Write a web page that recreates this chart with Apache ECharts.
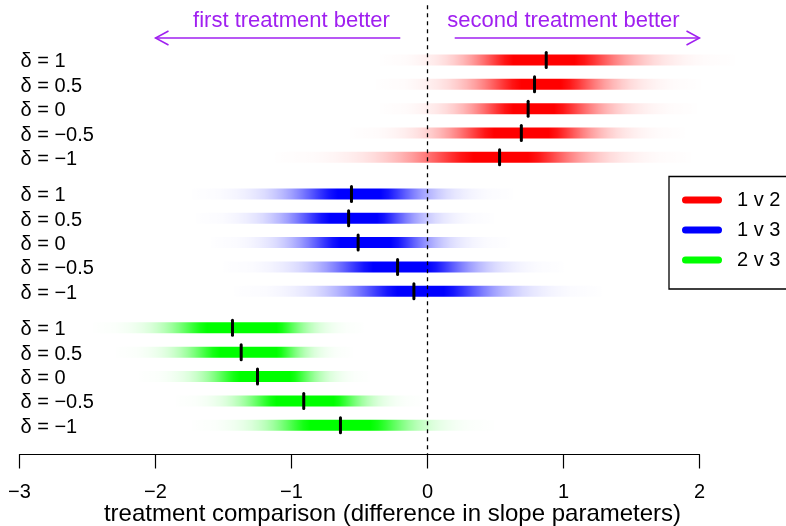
<!DOCTYPE html>
<html>
<head>
<meta charset="utf-8">
<script src="https://cdn.jsdelivr.net/npm/echarts@6/dist/echarts.min.js"></script>
<style>
  html, body { margin: 0; padding: 0; background: #ffffff; }
  #chart { width: 786px; height: 526px; }
</style>
</head>
<body>
<div id="chart"></div>
<script>
// Sensitivity parameter values, one row per value within each comparison block
const deltaLabels = ['δ = 1', 'δ = 0.5', 'δ = 0', 'δ = −0.5', 'δ = −1'];
const comparisons = ['1 v 2', '1 v 3', '2 v 3'];
const comparisonColors = [[255, 0, 0], [0, 0, 255], [0, 255, 0]];
const xTicks = [-3, -2, -1, 0, 1, 2];

// Posterior summaries of the slope difference (per delta row):
// median, outer support (lo/hi) and the high-density core (coreLo/coreHi)
const median12 = [0.873, 0.787, 0.740, 0.690, 0.530];
const lo12     = [-0.35, -0.38, -0.35, -0.57, -1.12];
const coreLo12 = [0.63, 0.69, 0.63, 0.49, 0.34];
const coreHi12 = [1.08, 0.98, 0.93, 0.89, 0.74];
const hi12     = [2.26, 2.01, 1.98, 1.89, 1.94];

const median13 = [-0.559, -0.580, -0.510, -0.220, -0.100];
const lo13     = [-1.73, -1.70, -1.59, -1.50, -1.42];
const coreLo13 = [-0.66, -0.72, -0.64, -0.40, -0.22];
const coreHi13 = [-0.35, -0.37, -0.27, 0.00, 0.12];
const hi13     = [0.63, 0.49, 0.61, 1.00, 1.28];

const median23 = [-1.434, -1.370, -1.250, -0.910, -0.640];
const lo23     = [-2.46, -2.29, -2.12, -1.85, -1.73];
const coreLo23 = [-1.62, -1.53, -1.38, -1.11, -0.86];
const coreHi23 = [-1.11, -1.11, -1.01, -0.69, -0.42];
const hi23     = [-0.47, -0.55, -0.42, -0.03, 0.49];

// Direction annotations above the plot: [arrow start, arrow tip, text centre, text]
const directionNotes = [
  [-0.2, -2.0, -1.0, 'first treatment better'],
  [0.2, 2.0, 1.0, 'second treatment better']
];

const FONT = '"Liberation Sans", Arial, Helvetica, sans-serif';
const PURPLE = '#a020f0';
const GROUP_STEP = 5.5;   // vertical offset between comparison blocks (row units)
const BAR_H = 11;

const blocks = [
  { median: median12, lo: lo12, coreLo: coreLo12, coreHi: coreHi12, hi: hi12 },
  { median: median13, lo: lo13, coreLo: coreLo13, coreHi: coreHi13, hi: hi13 },
  { median: median23, lo: lo23, coreLo: coreLo23, coreHi: coreHi23, hi: hi23 }
];

function rowPos(g, r) { return g * GROUP_STEP + r; }

// Intensity fall-off from the core towards the tails (t: 0 at core edge, 1 at tail end)
function fade(t) { return Math.exp(-Math.pow(t / 0.32, 1.5)); }

function rgba(c, a) { return 'rgba(' + c[0] + ',' + c[1] + ',' + c[2] + ',' + a.toFixed(4) + ')'; }

function fadeStops(lo, cLo, cHi, hi, c) {
  const span = hi - lo;
  const stops = [];
  const N = 16;
  for (let i = 0; i <= N; i++) {
    const x = lo + (cLo - lo) * i / N;
    stops.push({ offset: (x - lo) / span, color: rgba(c, fade(1 - i / N)) });
  }
  for (let i = 0; i <= N; i++) {
    const x = cHi + (hi - cHi) * i / N;
    stops.push({ offset: (x - lo) / span, color: rgba(c, fade(i / N)) });
  }
  return stops;
}

const bandSeries = blocks.map(function (b, g) {
  const data = b.median.map(function (m, r) {
    return [b.lo[r], b.coreLo[r], b.coreHi[r], b.hi[r], m, rowPos(g, r)];
  });
  const col = comparisonColors[g];
  return {
    name: comparisons[g],
    type: 'custom',
    itemStyle: { color: rgba(col, 1) },
    clip: false,
    silent: true,
    z: 2,
    encode: { x: [0, 3], y: 5 },
    data: data,
    renderItem: function (params, api) {
      const lo = api.value(0), cLo = api.value(1), cHi = api.value(2), hi = api.value(3);
      const med = api.value(4), y = api.value(5);
      const p0 = api.coord([lo, y]);
      const p1 = api.coord([hi, y]);
      const pm = api.coord([med, y]);
      return {
        type: 'group',
        children: [
          {
            type: 'rect',
            shape: { x: p0[0], y: p0[1] - BAR_H / 2, width: p1[0] - p0[0], height: BAR_H },
            style: {
              fill: new echarts.graphic.LinearGradient(0, 0, 1, 0, fadeStops(lo, cLo, cHi, hi, col))
            }
          },
          {
            type: 'line',
            z2: 5,
            shape: { x1: pm[0], y1: pm[1] - 7.5, x2: pm[0], y2: pm[1] + 7.5 },
            style: { stroke: '#000', lineWidth: 3, lineCap: 'round' }
          }
        ]
      };
    }
  };
});

const labelData = [];
blocks.forEach(function (b, g) {
  deltaLabels.forEach(function (lab, r) { labelData.push([-3, rowPos(g, r), lab]); });
});

const labelSeries = {
  type: 'custom',
  silent: true,
  clip: false,
  z: 3,
  data: labelData,
  renderItem: function (params, api) {
    const p = api.coord([api.value(0), api.value(1)]);
    return {
      type: 'text',
      x: p[0] + 1,
      y: p[1] + 2,
      style: {
        text: labelData[params.dataIndex][2],
        fill: '#000',
        font: '20px ' + FONT,
        align: 'left',
        verticalAlign: 'middle'
      }
    };
  }
};

const zeroLineSeries = {
  type: 'custom',
  silent: true,
  clip: false,
  z: 10,
  data: [[0]],
  renderItem: function (params, api) {
    const top = api.coord([api.value(0), -2.25]);
    const bot = api.coord([api.value(0), 16.2]);
    return {
      type: 'line',
      shape: { x1: top[0], y1: top[1], x2: bot[0], y2: bot[1] },
      style: { stroke: '#000', lineWidth: 1.3, lineDash: [4, 4] }
    };
  }
};

const ARROW_ROW = -0.9;
const NOTE_ROW = -1.62;
const noteSeries = {
  type: 'custom',
  silent: true,
  clip: false,
  z: 4,
  data: directionNotes,
  renderItem: function (params, api) {
    const note = directionNotes[params.dataIndex];
    const a = api.coord([note[0], ARROW_ROW]);
    const b = api.coord([note[1], ARROW_ROW]);
    const t = api.coord([note[2], NOTE_ROW]);
    const dir = a[0] > b[0] ? 1 : -1;
    return {
      type: 'group',
      children: [
        {
          type: 'line',
          shape: { x1: a[0], y1: a[1], x2: b[0], y2: b[1] },
          style: { stroke: PURPLE, lineWidth: 1.5 }
        },
        {
          type: 'polyline',
          shape: { points: [[b[0] + dir * 13, b[1] - 7], [b[0], b[1]], [b[0] + dir * 13, b[1] + 7]] },
          style: { stroke: PURPLE, lineWidth: 1.5, fill: null }
        },
        {
          type: 'text',
          x: t[0],
          y: t[1],
          style: {
            text: note[3],
            fill: PURPLE,
            font: '22px ' + FONT,
            align: 'center',
            verticalAlign: 'middle'
          }
        }
      ]
    };
  }
};

const chart = echarts.init(document.getElementById('chart'), null, { renderer: 'canvas' });

chart.setOption({
  animation: false,
  backgroundColor: '#ffffff',
  textStyle: { fontFamily: FONT },
  grid: { left: 19.5, right: 86.5, top: 1.5, bottom: 71.5, containLabel: false, outerBoundsMode: 'none' },
  xAxis: {
    type: 'value',
    min: xTicks[0],
    max: xTicks[xTicks.length - 1],
    interval: 1,
    name: 'treatment comparison (difference in slope parameters)',
    nameLocation: 'middle',
    nameGap: 48,
    nameMoveOverlap: false,
    nameTextStyle: { fontSize: 24, color: '#000', fontFamily: FONT, padding: [0, 0, 0, 66] },
    axisLine: { show: true, onZero: false, lineStyle: { color: '#000', width: 1.2 } },
    axisTick: { show: true, inside: false, length: 14, lineStyle: { color: '#000', width: 1.2 } },
    axisLabel: {
      show: true,
      margin: 28,
      fontSize: 20,
      color: '#000',
      fontFamily: FONT,
      formatter: function (v) { return String(v).replace('-', '\u2212'); }
    },
    splitLine: { show: false }
  },
  yAxis: {
    type: 'value',
    inverse: true,
    min: -2.4,
    max: 16.2,
    show: false,
    splitLine: { show: false }
  },
  legend: {
    data: comparisons,
    orient: 'vertical',
    left: 682,
    top: 190,
    padding: 0,
    itemGap: 10,
    itemWidth: 40,
    itemHeight: 7,
    icon: 'path://M3.5,0 L36.5,0 A3.5,3.5 0 0 1 36.5,7 L3.5,7 A3.5,3.5 0 0 1 3.5,0 Z',
    selectedMode: false,
    textStyle: { fontSize: 20, color: '#000', fontFamily: FONT, padding: [0, 0, 0, 10] }
  },
  graphic: [
    {
      type: 'rect',
      left: 666.5,
      top: 174,
      shape: { width: 200, height: 112.5 },
      style: { fill: null, stroke: '#000', lineWidth: 1.3 },
      silent: true
    }
  ],
  series: bandSeries.concat([labelSeries, noteSeries, zeroLineSeries])
});
</script>
</body>
</html>
